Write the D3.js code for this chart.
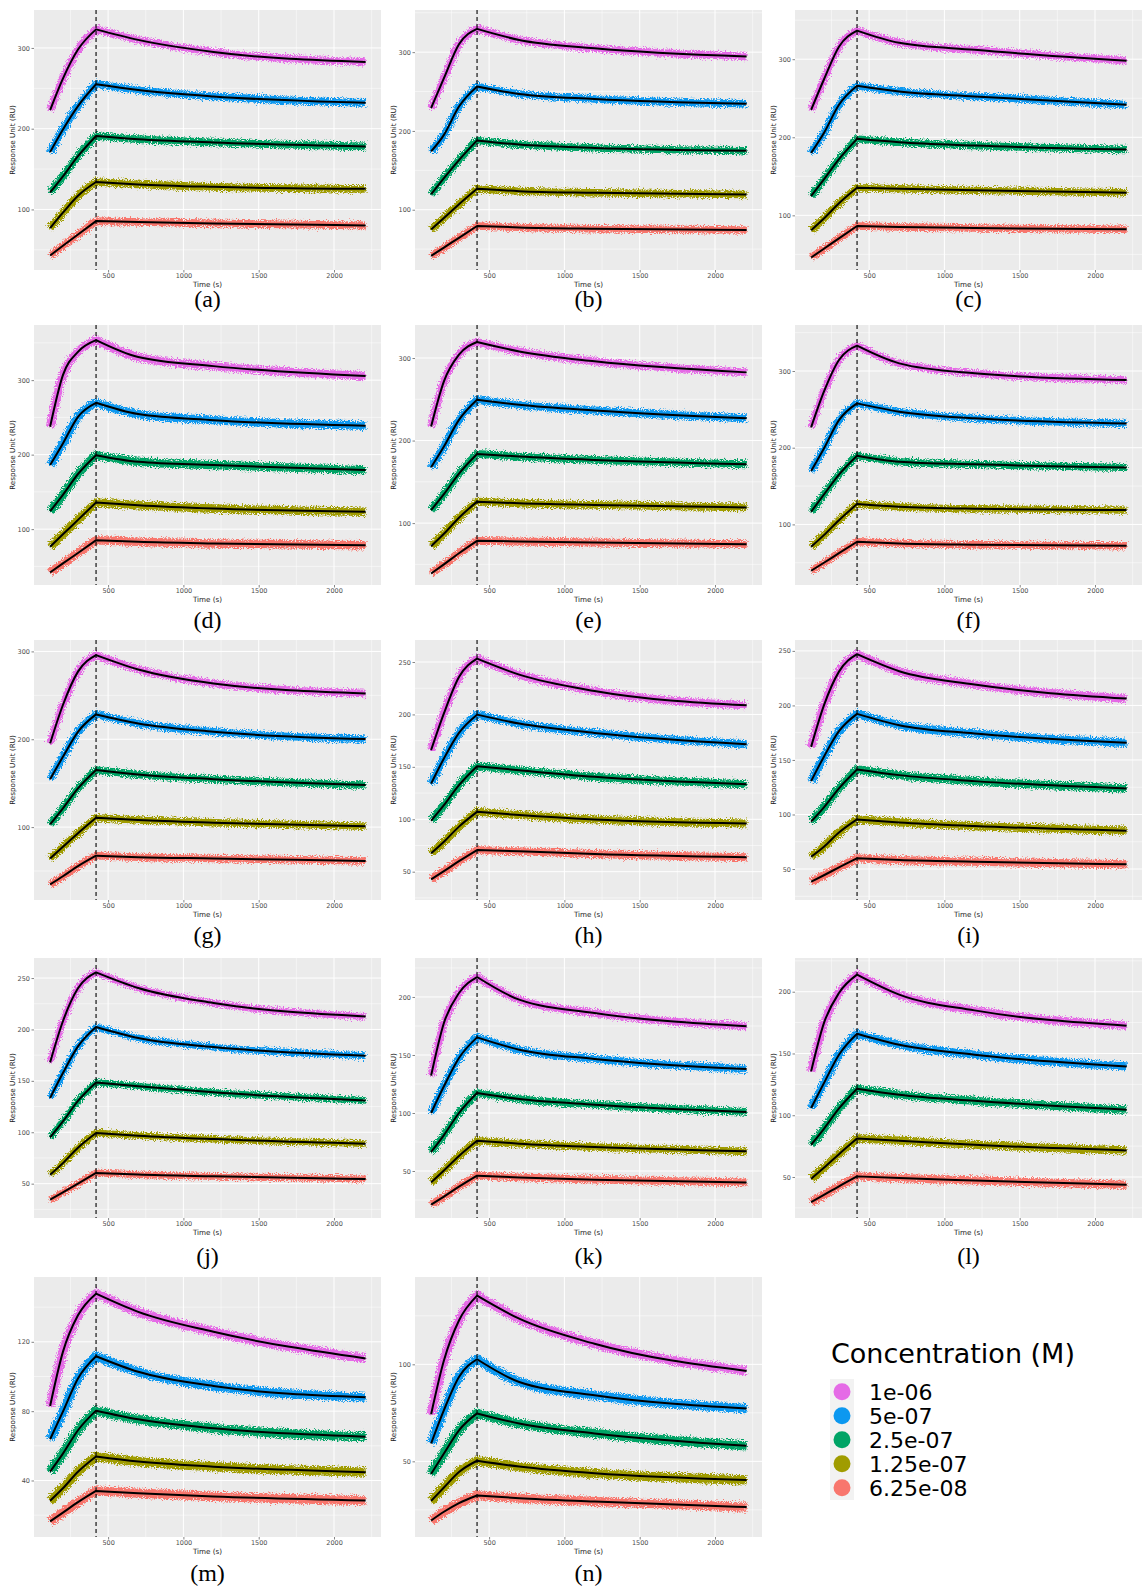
<!DOCTYPE html>
<html>
<head>
<meta charset="utf-8">
<script src="https://cdn.jsdelivr.net/npm/d3@7"></script>
<style>
  body { margin: 0; background: #fff; }
  svg { display: block; }
</style>
</head>
<body>
<svg width="1142" height="1588"></svg>
<script>
// ---- data ----
const concentrations = ['1e-06', '5e-07', '2.5e-07', '1.25e-07', '6.25e-08'];
const sampleTimes = [115, 200, 300, 420, 700, 1200, 2210];   // s
const injectionEnd = 420;
const xTicks = [500, 1000, 1500, 2000];
const xDomain = [8, 2312];
const panelLabels = ['(a)', '(b)', '(c)', '(d)', '(e)', '(f)', '(g)',
                     '(h)', '(i)', '(j)', '(k)', '(l)', '(m)', '(n)'];
const yDomains = [
  [25, 347], [23.5, 353.5], [30, 363],
  [25, 374], [25, 340], [21, 360],
  [17, 313], [23, 271], [21.6, 260],
  [16.6, 269.5], [9.5, 233.6], [16.8, 227.3],
  [7.4, 157.4], [11, 145]
];
const yTicks = [
  [100, 200, 300], [100, 200, 300], [100, 200, 300],
  [100, 200, 300], [100, 200, 300], [100, 200, 300],
  [100, 200, 300], [50, 100, 150, 200, 250], [50, 100, 150, 200, 250],
  [50, 100, 150, 200, 250], [50, 100, 150, 200], [50, 100, 150, 200],
  [40, 80, 120], [50, 100]
];
// spread of the measured points around the fit (RU)
const noiseRU = [5, 5, 5, 6, 5, 5, 4.5, 4, 4, 3.5, 3.5, 3.5, 2.8, 2.5];

// fitted response at sampleTimes, one row per concentration
const fitA = [
  [223, 262, 298, 323, 310, 295, 282.7],
  [171, 199, 228, 255, 248, 240, 232],
  [121, 141, 166, 191, 187, 183, 178],
  [77, 96, 117, 134, 131, 128, 125.5],
  [43, 55, 69, 85.6, 84.4, 82.7, 80.2]
];
const fitB = [
  [229, 267, 310, 329.5, 315.5, 305, 294.5],
  [174, 195, 231, 256.5, 247, 240.5, 234.6],
  [119.4, 140, 163, 188, 182.7, 178.5, 175],
  [75, 89.5, 107, 126.6, 123.6, 121.5, 119.4],
  [41.4, 52, 64.3, 79.3, 77.6, 76, 74.3]
];
const fitC = [
  [235, 274, 316, 336.6, 321, 312, 298],
  [180, 205.5, 241.7, 266, 258.7, 252.3, 241.7],
  [124.7, 146, 172, 198, 193.6, 189.4, 184.3],
  [81, 96, 115.5, 135.3, 134, 132, 129],
  [46, 57.2, 70.5, 86.4, 85.1, 83.8, 82.1]
];
const fitD = [
  [237.4, 306.7, 338, 353.7, 331, 318.8, 305.4],
  [186, 215, 250.8, 269.6, 254.4, 246.3, 238.7],
  [124, 146, 174, 199.3, 190.4, 186, 179.2],
  [76.3, 93, 112.4, 135.8, 132.2, 127.7, 123.3],
  [41.8, 54, 68, 85.2, 83, 80.8, 78.5]
];
const fitE = [
  [217, 271.7, 304, 319.4, 308, 296, 282.6],
  [167.6, 192.7, 225, 249.4, 243.3, 236.4, 227],
  [115.8, 135, 160, 183.8, 180.6, 176.5, 171.3],
  [72, 87, 106.5, 126, 124, 122, 119],
  [38.9, 50, 63.5, 78.5, 77.7, 76.5, 74.5]
];
const fitF = [
  [226.5, 273, 314.3, 333, 310, 297, 288.3],
  [169.6, 199, 236, 257.8, 247, 238.3, 231.7],
  [116.5, 139, 165, 189.6, 181.7, 178.3, 174.3],
  [70.9, 86, 105.5, 126.5, 123, 120.4, 118.7],
  [39.6, 50, 62.5, 77.4, 75.2, 73.5, 72.2]
];
const fitG = [
  [195.3, 239, 277, 295.8, 279.5, 263.6, 252.2],
  [154.6, 180, 208.5, 228.3, 218, 208.5, 200.2],
  [103, 121.3, 144, 165, 160, 154.6, 147.8],
  [64.3, 77.5, 93, 110.6, 108, 105, 101.1],
  [34.7, 44, 55.5, 67.4, 65.8, 64.3, 61.3]
];
const fitH = [
  [166, 201, 235.7, 253.2, 238, 222.4, 208.7],
  [134, 158, 182.4, 199.8, 191.3, 182.4, 171.6],
  [98.6, 113.5, 132.5, 150.6, 146.8, 140.5, 133.5],
  [67.5, 78.5, 93, 107.1, 104, 99.8, 96],
  [42.7, 50.5, 60, 70.6, 69.4, 66.8, 63.7]
];
const fitI = [
  [162, 200, 231, 247, 231.4, 219.2, 206.3],
  [130.6, 153, 176.4, 192.3, 181.9, 174.3, 165.7],
  [93.4, 106.5, 124, 141.3, 136.1, 130.6, 123.9],
  [61.3, 70.5, 83.5, 95.5, 92.7, 89.4, 85.1],
  [38.4, 44.3, 51.5, 59.8, 58.2, 56.7, 54.3]
];
const fitJ = [
  [168, 208, 240, 255.5, 240.3, 225.7, 212.7],
  [133.3, 157.6, 183.5, 202.4, 191.7, 182.9, 174.5],
  [95, 110.5, 130.5, 148.5, 144.7, 138.8, 131],
  [58.7, 70, 85, 99.3, 96.7, 93.4, 88.9],
  [34.4, 41.5, 50, 60.4, 58.8, 57.1, 54.5]
];
const fitK = [
  [132.2, 177.6, 203.4, 217.2, 197.7, 186.2, 174.7],
  [100, 123, 147.4, 165.2, 154.6, 146.6, 137.9],
  [66.4, 81, 100, 117.2, 112, 107.2, 100.9],
  [40.2, 50.5, 63, 76.1, 73.6, 70.7, 67],
  [21, 28, 36.5, 46, 44.5, 42.5, 40.2]
];
const fitL = [
  [135.5, 174.6, 199, 213.8, 197.6, 184.9, 172.5],
  [105.8, 126, 149, 166, 157.1, 149, 139.5],
  [76.1, 89, 105.5, 121.5, 116.6, 111.7, 104.5],
  [48.6, 57.5, 68.5, 81.2, 79.4, 76.1, 71.5],
  [29.7, 35.5, 42.5, 50.5, 49.1, 47.2, 43.7]
];
const fitM = [
  [83, 114.2, 135.3, 147.8, 137.3, 125.8, 110.4],
  [63.8, 79.7, 98.9, 111.7, 102.7, 94.5, 88],
  [45.1, 55.5, 69, 80.3, 75.3, 70.1, 65.3],
  [28.3, 35.5, 45, 53.8, 50.9, 48, 44.8],
  [16.4, 21.5, 27.5, 34, 32.7, 30.8, 28.4]
];
const fitN = [
  [74.3, 102, 122.6, 135.4, 123.5, 110.6, 96.6],
  [59.2, 76.4, 93.5, 102.6, 90.9, 84.1, 77.2],
  [43.5, 54, 66, 74.7, 69.5, 64.4, 58],
  [29.6, 36.5, 44.5, 50.3, 47.3, 43.8, 40.4],
  [19.5, 24, 28.5, 32.4, 31, 29.3, 26.4]
];
const panelFits = [fitA, fitB, fitC, fitD, fitE, fitF, fitG,
                   fitH, fitI, fitJ, fitK, fitL, fitM, fitN];

// ---- layout / style ----
const seriesColors = ['#E56BE6', '#0C98F0', '#00A466', '#A09C00', '#F8766D'];
const colLeft = [34, 415, 795];
const rowTop = [10, 325, 640, 958, 1277];
const labelGap = [37, 43, 43, 46, 44];
const W = 347, H = 260;
const sans = 'DejaVu Sans, sans-serif';

const svg = d3.select('svg');

const defs = svg.append('defs');
const filt = defs.append('filter')
    .attr('id', 'speckle')
    .attr('x', '-5%').attr('y', '-10%')
    .attr('width', '110%').attr('height', '120%');
filt.append('feTurbulence')
    .attr('type', 'fractalNoise')
    .attr('baseFrequency', 0.85)
    .attr('numOctaves', 2)
    .attr('seed', 4)
    .attr('result', 'noise');
filt.append('feDisplacementMap')
    .attr('in', 'SourceGraphic')
    .attr('in2', 'noise')
    .attr('scale', 8)
    .attr('xChannelSelector', 'R')
    .attr('yChannelSelector', 'G');

const minorTicks = (ticks, dom) => {
    const step = ticks[1] - ticks[0];
    let m = ticks[0] - step / 2;
    while (m - step > dom[0]) m -= step;
    return d3.range(m, dom[1], step).filter(v => v >= dom[0] && v <= dom[1]);
};

const panel = (g, i) => {
    const x = d3.scaleLinear().domain(xDomain).range([0, W]);
    const y = d3.scaleLinear().domain(yDomains[i]).range([H, 0]);
    const yt = yTicks[i];

    g.append('rect')
        .attr('width', W).attr('height', H)
        .attr('fill', '#EBEBEB');

    // grid
    const grid = g.append('g').attr('stroke', '#fff');
    grid.selectAll('.xmin')
        .data(minorTicks(xTicks, xDomain))
        .enter().append('line')
        .attr('x1', d => x(d)).attr('x2', d => x(d))
        .attr('y1', 0).attr('y2', H)
        .attr('stroke-width', 0.5);
    grid.selectAll('.ymin')
        .data(minorTicks(yt, yDomains[i]))
        .enter().append('line')
        .attr('y1', d => y(d)).attr('y2', d => y(d))
        .attr('x1', 0).attr('x2', W)
        .attr('stroke-width', 0.5);
    grid.selectAll('.xmaj')
        .data(xTicks)
        .enter().append('line')
        .attr('x1', d => x(d)).attr('x2', d => x(d))
        .attr('y1', 0).attr('y2', H)
        .attr('stroke-width', 1);
    grid.selectAll('.ymaj')
        .data(yt)
        .enter().append('line')
        .attr('y1', d => y(d)).attr('y2', d => y(d))
        .attr('x1', 0).attr('x2', W)
        .attr('stroke-width', 1);

    // axes
    const ax = g.append('g')
        .attr('transform', `translate(0,${H})`)
        .call(d3.axisBottom(x).tickValues(xTicks).tickFormat(d3.format('d'))
            .tickSize(2.5).tickPadding(1));
    const ay = g.append('g')
        .call(d3.axisLeft(y).tickValues(yt).tickFormat(d3.format('d'))
            .tickSize(2.5).tickPadding(1.5));
    [ax, ay].forEach(a => {
        a.select('.domain').remove();
        a.selectAll('line').attr('stroke', '#333').attr('stroke-width', 0.6);
        a.selectAll('text')
            .attr('fill', '#4D4D4D')
            .attr('font-size', 6.5)
            .attr('font-family', sans);
    });

    const line = d3.line()
        .x(d => x(d[0]))
        .y(d => y(d[1]))
        .curve(d3.curveMonotoneX);
    const pathOf = vals => {
        const pts = sampleTimes.map((t, j) => [t, vals[j]]);
        const a = line(pts.slice(0, 4));
        const b = line(pts.slice(3));
        return a + b.replace(/^M/, 'L');
    };

    const fits = panelFits[i];
    const bandW = 2 * noiseRU[i] * (H / (yDomains[i][1] - yDomains[i][0])) * 0.95;

    // observed points (spread around the fit)
    g.append('g')
        .attr('filter', 'url(#speckle)')
        .selectAll('path')
        .data(fits)
        .enter().append('path')
        .attr('d', pathOf)
        .attr('fill', 'none')
        .attr('stroke', (d, k) => seriesColors[k])
        .attr('stroke-width', bandW)
        .attr('stroke-linejoin', 'round');

    // fitted curves
    g.append('g')
        .selectAll('path')
        .data(fits)
        .enter().append('path')
        .attr('d', pathOf)
        .attr('fill', 'none')
        .attr('stroke', '#000')
        .attr('stroke-width', 2)
        .attr('stroke-linejoin', 'round');

    // end of injection
    g.append('line')
        .attr('x1', x(injectionEnd)).attr('x2', x(injectionEnd))
        .attr('y1', 0).attr('y2', H)
        .attr('stroke', '#000')
        .attr('stroke-width', 1.1)
        .attr('stroke-dasharray', '4,3');

    // titles
    g.append('text')
        .attr('x', W / 2).attr('y', H + 16.5)
        .attr('text-anchor', 'middle')
        .attr('font-size', 7.2)
        .attr('font-family', sans)
        .attr('fill', '#1a1a1a')
        .text('Time (s)');
    g.append('text')
        .attr('transform', `translate(-19,${H / 2}) rotate(-90)`)
        .attr('text-anchor', 'middle')
        .attr('font-size', 7.2)
        .attr('font-family', sans)
        .attr('fill', '#1a1a1a')
        .text('Response Unit (RU)');
    g.append('text')
        .attr('x', W / 2).attr('y', H + labelGap[Math.floor(i / 3)])
        .attr('text-anchor', 'middle')
        .attr('font-size', 24)
        .attr('font-family', 'Liberation Serif, Times New Roman, serif')
        .attr('fill', '#000')
        .text(panelLabels[i]);
};

panelLabels.forEach((lab, i) => {
    const col = i % 3, row = Math.floor(i / 3);
    svg.append('g')
        .attr('transform', `translate(${colLeft[col]},${rowTop[row]})`)
        .call(panel, i);
});

// legend
const legend = svg.append('g').attr('transform', 'translate(830,1363)');
legend.append('text')
    .attr('x', 1).attr('y', 0)
    .attr('font-size', 27)
    .attr('font-family', sans)
    .attr('fill', '#000')
    .text('Concentration (M)');
legend.append('rect')
    .attr('x', 0).attr('y', 16)
    .attr('width', 24).attr('height', 121)
    .attr('fill', '#F2F2F2');
const item = legend.selectAll('.item')
    .data(concentrations)
    .enter().append('g')
    .attr('class', 'item')
    .attr('transform', (d, k) => `translate(12,${28.7 + k * 24})`);
item.append('circle')
    .attr('r', 8.5)
    .attr('fill', (d, k) => seriesColors[k]);
item.append('text')
    .attr('x', 27)
    .attr('dy', '0.36em')
    .attr('font-size', 22)
    .attr('font-family', sans)
    .attr('fill', '#000')
    .text(d => d);
</script>
</body>
</html>
